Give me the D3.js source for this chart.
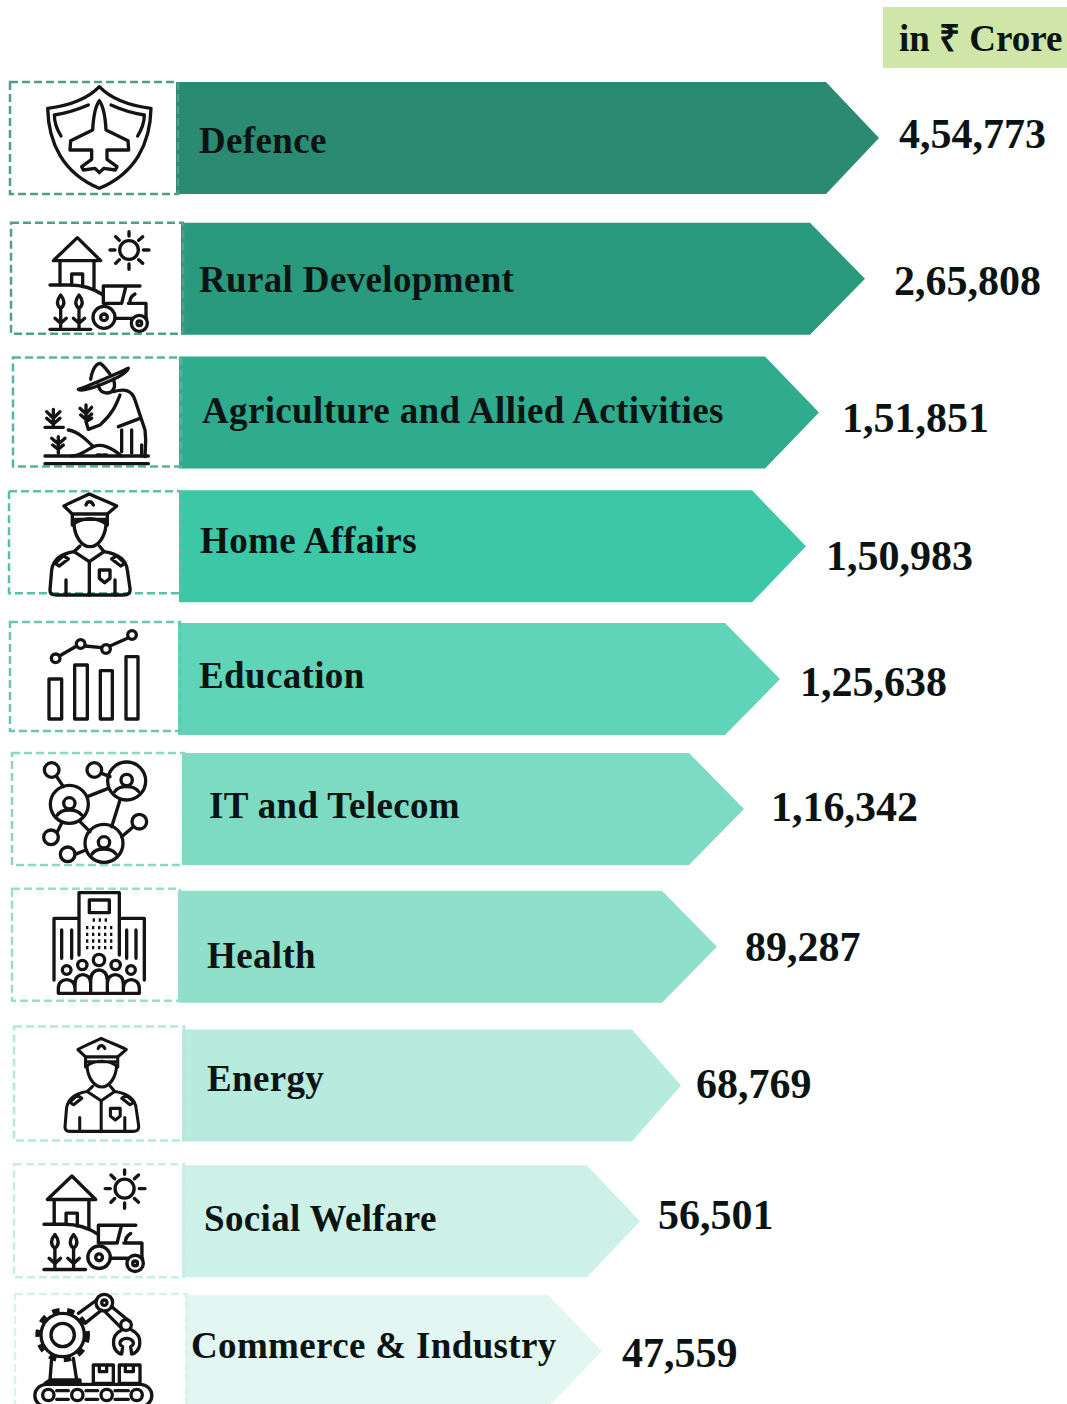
<!DOCTYPE html>
<html>
<head>
<meta charset="utf-8">
<script src="https://cdn.jsdelivr.net/npm/d3@7"></script>
<style>
	html, body { margin: 0; background: #fff; }
	svg { display: block; }
	text { font-family: "Liberation Serif", serif; font-weight: bold; fill: #0b1412; }
</style>
</head>
<body>
<svg id="chart" width="1067" height="1404"></svg>
<script>
const unit_label = "in ₹ Crore";
const categories = ["Defence", "Rural Development", "Agriculture and Allied Activities", "Home Affairs", "Education", "IT and Telecom", "Health", "Energy", "Social Welfare", "Commerce & Industry"];
const values = [454773, 265808, 151851, 150983, 125638, 116342, 89287, 68769, 56501, 47559];
const fills = ["#2b8a72", "#2a9a7e", "#2fab8d", "#3cc8a7", "#5fd4b9", "#7ddac3", "#8fdfca", "#b7ebde", "#cdf1e8", "#e2f7f1"];
const box_strokes = ["#4f9c8a", "#4fa08e", "#55b5a0", "#5cbfa9", "#6ac6b2", "#8bd5c4", "#9adccd", "#b5e8dc", "#c6eee5", "#d5f2eb"];

// the picture's arrows are not to scale, so value -> tip is a piecewise scale
const tip_stops = [879, 865, 819, 806, 780, 744, 717, 681, 640, 602];
const arrow_head = [53, 55, 54, 54, 55, 55, 55, 49, 53, 54];
const row_nudge = [0, 6, 5, 4, 2, -3, 0, 4, 5, 0];
const bar_start = [176, 181, 179, 179, 178, 182, 178, 182, 182, 185];
const box_left = [10, 11, 13, 9, 10, 12, 12, 14, 14, 15];
const box_top_nudge = [0, 0, 1, 1, -1, 0, -2, -3, -1, -1];
const box_h = [112, 111, 109, 102, 109, 112, 112, 114, 113, 125];
const label_x = [199, 199, 202, 200, 199, 209, 207, 207, 204, 191];
const label_dy = [71, 69, 66, 63, 65, 65, 77, 62, 66, 63];
const value_dx = [20, 29, 23, 20, 20, 27, 28, 15, 18, 20];
const value_dy = [66, 72, 75, 80, 73, 68, 70, 69, 64, 72];

// icon drawings: [paths, circles], in units of 1/3 px
const icons = {
	shield: [[
		"M298 50C260 90 200 108 143 115C145 220 190 310 298 355C406 310 451 220 453 115C396 108 336 90 298 50Z",
		"M265 105C230 120 195 130 163 135C163 160 172 180 183 198M333 105C366 120 401 130 433 135C433 160 424 180 413 198",
		"M298 92C285 110 280 140 278 180L212 212L210 240L275 240L275 268L245 290L250 300L285 295L298 308L311 295L346 300L351 290L321 268L321 240L386 240L384 212L318 180C316 140 311 110 298 92Z"
	], []],
	farm: [[
		"M160 572L232 503L302 572ZM180 572V645M282 572V655M215 645V612H248V650",
		"M150 645H210C250 645 280 655 310 675",
		"M387 485V498M387 582V598M330 540H345M430 540H447M347 500L358 511M416 569L428 580M347 580L358 569M416 511L428 500",
		"M310 700V648H420M378 648L365 700M310 700H360M385 700H438V745H440M345 745H395M390 700C388 685 395 678 405 672",
		"M182 675C170 690 168 705 182 715C196 705 194 690 182 675ZM182 715V775M165 745L182 760L199 745",
		"M237 675C225 690 223 705 237 715C251 705 249 690 237 675ZM237 715V775M220 745L237 760L254 745",
		"M150 778H272"
	], [[387, 540, 28], [312, 742, 33], [312, 742, 10], [418, 760, 24], [418, 760, 7]]],
	farmer: [[
		"M235 118C285 100 340 75 385 55C380 70 340 90 300 105C275 115 245 125 235 118Z",
		"M272 88C275 65 285 42 300 40C310 45 320 60 330 72",
		"M295 105C298 125 315 135 335 125C345 115 345 100 340 88",
		"M340 125C375 115 395 120 405 150L435 240C440 280 435 300 435 320",
		"M360 135C350 160 340 190 300 225L265 238L258 215L275 205M355 230L420 205",
		"M365 240V305M395 240V310M425 285V318",
		"M160 178V230M140 185L160 205L180 185M140 205L160 222L180 205",
		"M258 165V210M240 175L258 192L275 172M242 195L258 208L275 192",
		"M175 260V310M155 265L175 282L195 265M158 285L175 298L190 285",
		"M135 232H190M205 240C235 245 260 270 280 290C260 300 240 318 215 318M280 290C305 280 330 290 365 318",
		"M135 318H445M135 341H445M292 315H302M310 315H320"
	], []],
	police: [[
		"M268 432C240 445 215 455 192 468L217 492H322L350 468C325 455 295 445 268 432Z",
		"M258 465C262 452 275 452 280 465M217 492V525C245 500 295 500 322 525V492M220 508H318",
		"M222 525C225 560 245 590 270 590C295 590 315 560 318 525",
		"M240 588L222 605L268 635L312 605L298 588",
		"M222 605C190 610 160 625 155 660L150 720C150 735 160 735 170 735H370C385 735 392 730 390 715L382 660C378 625 345 610 312 605",
		"M165 640L190 617L205 627L178 648ZM375 640L350 617L335 627L362 648Z",
		"M268 635V735M198 690V735M345 690V735M298 660H330V685L314 698L298 685Z"
	], []],
	bars: [[
		"M147 207H185V327H147ZM224 165H262V327H224ZM301 182H337V327H301ZM378 140H414V327H378Z",
		"M178 138L230 108M255 108L305 113M330 108L384 84"
	], [[167, 145, 13], [242, 102, 13], [318, 117, 13], [396, 75, 13]]],
	network: [[
		"M170 500L190 530M305 490L330 500M262 560L325 535M360 570L335 650M240 635L270 665M172 665L185 640M225 733L258 720M400 650L365 680",
		"M172 615C185 595 230 595 245 615M344 545C357 525 402 525 416 545M276 732C289 712 334 712 348 732"
	], [[208, 583, 57], [380, 513, 57], [312, 700, 57], [155, 480, 22], [283, 480, 22], [418, 635, 22], [153, 682, 22], [203, 733, 22], [208, 580, 17], [380, 510, 17], [312, 697, 17]]],
	hospital: [[
		"M237 225V38H358V225M268 60H328V98H268ZM237 115H162V300M358 115H433V300",
		"M185 150V235M215 150V235M380 150V235M408 150V235",
		"M175 340V325C175 290 225 290 225 325V340M225 340V310C225 275 272 275 272 310V340M272 340V300C272 260 322 260 322 300V340M322 340V310C322 275 370 275 370 310V340M370 340V325C370 290 418 290 418 325V340M175 340H418"
	], [[200, 270, 13], [247, 255, 14], [297, 240, 17], [347, 255, 14], [393, 270, 13]]],
	robot: [[
		"M235 490L290 450M255 520L305 480M335 470L390 515M315 485L365 535",
		"M365 540C325 560 340 610 365 612L368 590C350 580 365 565 380 565C395 565 410 580 392 590L395 612C420 610 435 560 395 540",
		"M155 625L150 690M220 625L230 690M135 700H240V690H150Z",
		"M280 645H340V700H280ZM358 645H420V700H358ZM298 645V665H320V645M376 645V665H400V645",
		"M142 703H418C468 703 468 770 418 770H142C92 770 92 703 142 703Z",
		"M170 722H205M170 748H205M258 722H293M258 748H293M345 722H385M345 748H385"
	], [[188, 555, 35], [188, 555, 65], [313, 458, 25], [313, 458, 8], [378, 525, 16], [145, 735, 17], [232, 735, 17], [320, 735, 17], [410, 735, 17]]]
};
const icon_names = ["shield", "farm", "farmer", "police", "bars", "network", "hospital", "police", "farm", "robot"];
const icon_place = [[0, 70, 1], [0, 70, 1], [0, 350, 1], [0, 350, 1], [0, 610, 1], [0, 610, 1], [0, 880, 1], [19, 906, 0.92], [-7, 1005, 1.02], [0, 1150, 1]];

const svg = d3.select("#chart");
const indian = d3.formatLocale({decimal: ".", thousands: ",", grouping: [3, 2], currency: ["₹", ""]}).format(",d");

const y = d3.scaleBand()
	.domain(categories)
	.range([82, 1407])
	.paddingInner(0.169)
	.paddingOuter(0);

const tip = d3.scaleLinear()
	.domain(values)
	.range(tip_stops);

const rows = categories.map((name, i) => ({name, value: values[i], i, top: y(name) + row_nudge[i]}));

const arrow = d => {
	const h = y.bandwidth();
	const t = tip(d.value);
	const pts = [[bar_start[d.i], d.top], [t - arrow_head[d.i], d.top], [t, d.top + h / 2], [t - arrow_head[d.i], d.top + h], [bar_start[d.i], d.top + h]];
	return d3.line()(pts) + "Z";
};

// unit badge
svg.append("rect")
	.attr("x", 883).attr("y", 7)
	.attr("width", 184).attr("height", 61)
	.attr("fill", "#cfe6a8");
svg.append("text")
	.attr("x", 899).attr("y", 51)
	.attr("font-size", 37)
	.text(unit_label);

const row = svg.append("g")
	.selectAll("g")
	.data(rows)
	.join("g");

row.append("path")
	.attr("fill", d => fills[d.i])
	.attr("d", arrow);

row.append("rect")
	.attr("x", d => box_left[d.i])
	.attr("y", d => d.top + box_top_nudge[d.i])
	.attr("width", d => bar_start[d.i] + 2 - box_left[d.i])
	.attr("height", d => box_h[d.i])
	.attr("fill", "none")
	.attr("stroke", d => box_strokes[d.i])
	.attr("stroke-width", 2.5)
	.attr("stroke-dasharray", "8 4");

const icon = row.append("g")
	.attr("transform", d => {
		const [tx, ty, s] = icon_place[d.i];
		return `translate(${tx},${ty}) scale(${s / 3})`;
	})
	.attr("fill", "none")
	.attr("stroke", "#141414")
	.attr("stroke-width", 10)
	.attr("stroke-linejoin", "round")
	.attr("stroke-linecap", "round");

icon.selectAll("path")
	.data(d => icons[icon_names[d.i]][0])
	.join("path")
	.attr("d", d => d);

icon.selectAll("circle")
	.data(d => icons[icon_names[d.i]][1])
	.join("circle")
	.attr("cx", d => d[0])
	.attr("cy", d => d[1])
	.attr("r", d => d[2]);

// bits of the two icons that a plain path can't do
const hospital = icon.filter(d => icon_names[d.i] === "hospital");
hospital.selectAll("line.dots")
	.data([120, 143, 163, 183, 203])
	.join("line")
	.attr("class", "dots")
	.attr("x1", d => d === 120 ? 278 : 258)
	.attr("x2", d => d === 120 ? 322 : 342)
	.attr("y1", d => d)
	.attr("y2", d => d)
	.attr("stroke-dasharray", "7 11")
	.attr("stroke-linecap", "butt");

icon.filter(d => icon_names[d.i] === "robot")
	.append("circle")
	.attr("cx", 188).attr("cy", 555).attr("r", 74)
	.attr("stroke-width", 16)
	.attr("stroke-linecap", "butt")
	.attr("stroke-dasharray", "22 23");

row.append("text")
	.attr("x", d => label_x[d.i])
	.attr("y", d => d.top + label_dy[d.i])
	.attr("font-size", 37)
	.attr("letter-spacing", 0.35)
	.text(d => d.name);

row.append("text")
	.attr("x", d => tip(d.value) + value_dx[d.i])
	.attr("y", d => d.top + value_dy[d.i])
	.attr("font-size", 42)
	.text(d => indian(d.value));
</script>
</body>
</html>
